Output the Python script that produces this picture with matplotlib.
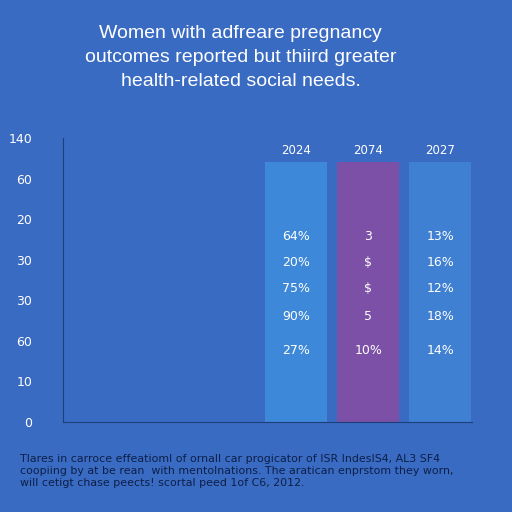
import matplotlib
matplotlib.use("Agg")
import matplotlib.pyplot as plt

categories = ["2024", "2074", "2027"]
bar_heights = [6.4, 6.4, 6.4]
bar_colors = ["#3d88d8", "#7b50a6", "#3f80d2"]
ytick_vals = [7, 6, 5, 4, 3, 2, 1, 0]
ytick_labels = ["140", "60", "20", "30", "30", "60", "10", "0"]
row_levels = [4.58, 3.94, 3.28, 2.61, 1.77]
cell_text = [
    ["64%", "20%", "75%", "90%", "27%"],
    ["3", "$", "$", "5", "10%"],
    ["13%", "16%", "12%", "18%", "14%"],
]
title = "Women with adfreare pregnancy\noutcomes reported but thiird greater\nhealth-related social needs."
footnote = ("Tlares in carroce effeatioml of ornall car progicator of ISR IndesIS4, AL3 SF4\n"
            "coopiing by at be rean  with mentolnations. The aratican enprstom they worn,\n"
            "will cetigt chase peects! scortal peed 1of C6, 2012.")

bg = "#3a6bc3"
fig = plt.figure(figsize=(5.12, 5.12), dpi=100, facecolor=bg)
ax = fig.add_axes([63/512, 1-422/512, (472-63)/512, (422-138)/512], facecolor=bg)
x = list(range(len(categories)))
ax.bar(x, bar_heights, width=0.86, color=bar_colors)
for xi, cat, h in zip(x, categories, bar_heights):
    ax.text(xi, h + 0.28, cat, ha="center", va="center", color="white", fontsize=8.5)
for xi, col in zip(x, cell_text):
    for lvl, t in zip(row_levels, col):
        ax.text(xi, lvl, t, ha="center", va="center", color="white", fontsize=9)
ax.set_xlim(-3.24, 2.44)
ax.set_ylim(0, 7)
ax.set_yticks(ytick_vals)
ax.set_yticklabels(ytick_labels, color="white", fontsize=9)
ax.set_xticks([])
ax.tick_params(axis="y", length=0, pad=22)
for s in ["top", "right"]:
    ax.spines[s].set_visible(False)
ax.spines["left"].set_color("#1d3f7a")
ax.spines["bottom"].set_color("#1d3f7a")

fig.text(0.47, 0.888, title, ha="center", va="center", color="white", fontsize=14,
         linespacing=1.55, family="Liberation Sans")
fig.text(0.04, 0.08, footnote, ha="left", va="center", color="#0d1f47", fontsize=7.9, linespacing=1.2)
fig.savefig("out.png", dpi=100, facecolor=bg)
